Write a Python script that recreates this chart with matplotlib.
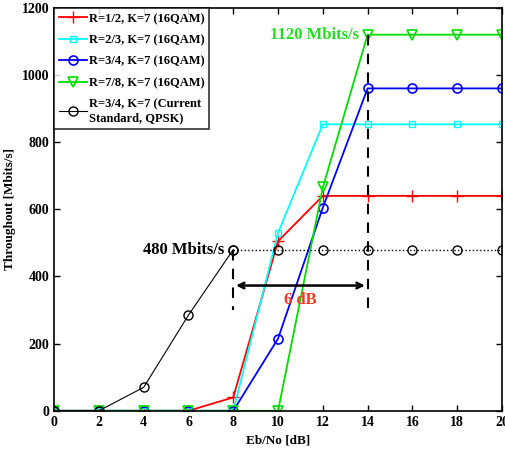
import matplotlib
matplotlib.use("Agg")
import matplotlib.pyplot as plt

# Eb/No [dB]
ebno = [0, 2, 4, 6, 8, 10, 12, 14, 16, 18, 20]

# throughput [Mbits/s]
r12 = [0, 0, 0, 0, 40, 505, 640, 640, 640, 640, 640]
r23 = [0, 0, 0, 0, 0, 530, 853, 853, 853, 853, 853]
r34 = [0, 0, 0, 0, 0, 215, 605, 960, 960, 960, 960]
r78 = [0, 0, 0, 0, 0, 0, 665, 1120, 1120, 1120, 1120]
qpsk = [0, 0, 70, 285, 480, 480, 480, 480, 480, 480, 480]

labels = ["R=1/2, K=7 (16QAM)", "R=2/3, K=7 (16QAM)", "R=3/4, K=7 (16QAM)",
          "R=7/8, K=7 (16QAM)", "R=3/4, K=7 (Current\nStandard, QPSK)"]

plt.rcParams['font.family'] = ['Liberation Serif', 'DejaVu Serif']
plt.rcParams['font.weight'] = 'bold'

fig = plt.figure(figsize=(5.06, 4.59), dpi=100)
ax = fig.add_axes([0.107, 0.105, 0.885, 0.878])

ax.plot(ebno, r12, color='#ff0000', marker='+', ms=8, lw=1.3, label=labels[0])
ax.plot(ebno, r23, color='#00ffff', marker='s', ms=5, mfc='none', lw=1.3, label=labels[1])
ax.plot(ebno, r34, color='#0000ff', marker='o', ms=6.5, mfc='none', mew=1.2, lw=1.3, label=labels[2])
ax.plot(ebno, r78, color='#00dd00', marker='v', ms=6.5, mfc='none', mew=1.2, lw=1.3, label=labels[3])
# current standard: solid up to 8 dB, dotted afterwards
ax.plot(ebno[:5], qpsk[:5], color='black', marker='o', ms=6.5, mfc='none', lw=0.8, label=labels[4])
ax.plot(ebno[4:], qpsk[4:], color='black', marker='o', ms=6.5, mfc='none', lw=1.0, ls=':')

# annotations
ax.plot([8, 8], [480, 300], color='black', ls=(0, (5, 4)), lw=1.5)
ax.plot([14, 14], [1120, 300], color='black', ls=(0, (5, 4)), lw=1.5)
ax.annotate('', xy=(8, 373), xytext=(14, 373),
            arrowprops=dict(arrowstyle='<->', lw=1.8, color='black'))
ax.text(11, 331, '6 dB', color='#ff3322', fontsize=12, fontweight='bold',
        ha='center', va='center')
ax.text(7.6, 480, '480 Mbits/s', color='black', fontsize=12, fontweight='bold',
        ha='right', va='center')
ax.text(13.6, 1120, '1120 Mbits/s', color='#22dd22', fontsize=12, fontweight='bold',
        ha='right', va='center')

ax.set_xlim(0, 20)
ax.set_ylim(0, 1200)
ax.set_xticks(range(0, 21, 2))
ax.set_yticks(range(0, 1201, 200))
ax.tick_params(direction='in', labelsize=10, width=1, length=4, top=True, right=True)
for lab in ax.get_xticklabels() + ax.get_yticklabels():
    lab.set_fontweight('bold')
for s in ax.spines.values():
    s.set_linewidth(1.2)

ax.set_xlabel('Eb/No [dB]', fontsize=9.5, fontweight='bold')
ax.set_ylabel('Throughout [Mbits/s]', fontsize=9.5, fontweight='bold')

leg = ax.legend(loc='upper left', fontsize=9, frameon=True, fancybox=False,
                edgecolor='black', borderaxespad=0, handlelength=2.2,
                handletextpad=0.15, borderpad=0.4, labelspacing=0.75)
leg.get_frame().set_linewidth(1.2)
for t in leg.get_texts():
    t.set_fontweight('bold')

fig.savefig('out.png', dpi=100)
